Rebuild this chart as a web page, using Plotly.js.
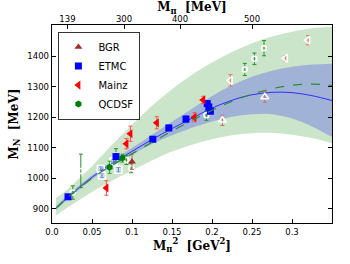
<!DOCTYPE html>
<html><head><meta charset="utf-8">
<script src="https://cdn.plot.ly/plotly-3.0.1.min.js"></script>
<style>body{margin:0;background:#fff}#p{width:350px;height:264px}</style>
</head><body><div id="p"></div>
<script>
// ---- data ----
// curves / bands (M_pi^2 grid in GeV^2, M_N in MeV)
var curveX = [0.005,0.02,0.05,0.075,0.1,0.125,0.15,0.175,0.2,0.225,0.25,0.275,0.3,0.325,0.35];
var fitBlue = [902,938,1003,1048,1088,1127,1163,1197,1230,1256,1274,1282,1281,1271,1255];
var fitGreenDash = [902,937,1000,1042,1080,1118,1155,1190,1223,1252,1276,1294,1305,1309,1305];
var greenUpper = [935,965,1040,1110,1175,1238,1292,1340,1380,1414,1443,1465,1481,1492,1497];
var greenLower = [878,905,955,992,1025,1058,1088,1110,1128,1141,1148,1149,1143,1132,1115];
var blueUpper = [909,945,1010,1056,1099,1143,1185,1228,1270,1305,1333,1353,1366,1373,1376];
var blueLower = [895,931,996,1040,1077,1112,1141,1166,1186,1202,1210,1210,1196,1170,1135];

// BGR
var bgrX = [0.100], bgrY = [1054], bgrE = [25];
var bgrOpenX = [0.213,0.266], bgrOpenY = [1190,1267], bgrOpenE = [17,18];
// ETMC
var etmcX = [0.020,0.080,0.126,0.146,0.1675,0.194,0.196,0.198];
var etmcY = [939,1071,1128,1165,1194,1245,1234,1220];
var etmcE = [6,10,8,10,12,10,10,10];
var etmcOpenX = [0.061,0.0625,0.077,0.083];
var etmcOpenY = [1030,1009,1055,1028];
var etmcOpenE = [8,8,8,8];
// Mainz
var mainzX = [0.068,0.093,0.098,0.131,0.178,0.189];
var mainzY = [968,1113,1146,1182,1200,1257];
var mainzE = [24,17,25,20,15,12];
var mainzOpenX = [0.223,0.292,0.320];
var mainzOpenY = [1321,1394,1453];
var mainzOpenE = [19,8,15];
// QCDSF
var qX = [0.072,0.088], qY = [1036,1066], qE = [20,13];
var qOpenX = [0.026,0.036,0.080,0.093,0.099,0.193,0.241,0.253,0.265];
var qOpenY = [953,1024,1075,1060,1033,1207,1357,1392,1427];
var qOpenE = [22,55,22,15,15,17,20,19,25];

// top axis: M_pi in MeV
var topTickMeV = [139,300,400,500];

// ---- traces ----
function band(up, lo, color){
  return [
    {x:curveX, y:up, mode:'lines', line:{width:0, shape:'spline'}, hoverinfo:'skip', showlegend:false},
    {x:curveX, y:lo, mode:'lines', line:{width:0, shape:'spline'}, fill:'tonexty', fillcolor:color, hoverinfo:'skip', showlegend:false}
  ];
}
function pts(x,y,e,name,sym,col,size,open,ecol,legend){
  var m = {symbol:sym, size:size, color:open?'#ffffff':col, line:{color:col, width:open?1.5:0}};
  return {x:x, y:y, name:name, mode:'markers', type:'scatter', showlegend:legend,
    error_y:{type:'data', array:e, visible:true, color:ecol, thickness:1, width:2},
    marker:m};
}
var traces = [];
traces = traces.concat(band(greenUpper, greenLower, 'rgb(202,229,202)'));
traces = traces.concat(band(blueUpper, blueLower, 'rgb(160,178,214)'));
// dashed fit drawn on the top (M_pi) axis, which shares the same M_pi^2 scale
traces.push({x:curveX, y:fitGreenDash, xaxis:'x2', mode:'lines', line:{color:'#2e8b3a', width:1.2, dash:'dash', shape:'spline'}, showlegend:false});
traces.push({x:curveX, y:fitBlue, mode:'lines', line:{color:'#2f2fff', width:1, shape:'spline'}, showlegend:false});

traces.push(pts(bgrOpenX,bgrOpenY,bgrOpenE,'BGR open','triangle-up-open','#c05050',7,true,'#cc7070',false));
traces.push(pts(etmcOpenX,etmcOpenY,etmcOpenE,'ETMC open','square-open','#4a4aff',7,true,'#7070ff',false));
traces.push(pts(mainzOpenX,mainzOpenY,mainzOpenE,'Mainz open','triangle-left-open','#ea4a4a',7,true,'#ee7070',false));
traces.push(pts(qOpenX,qOpenY,qOpenE,'QCDSF open','circle-open','#2a922a',5,true,'#2a922a',false));

traces.push(pts(bgrX,bgrY,bgrE,'BGR','triangle-up','#a52a2a',7,false,'#c06060',true));
traces.push(pts(etmcX,etmcY,etmcE,'ETMC','square','#0000ff',7,false,'#6a6aff',true));
traces.push(pts(mainzX,mainzY,mainzE,'Mainz','triangle-left','#ff0000',8,false,'#ff5050',true));
traces.push(pts(qX,qY,qE,'QCDSF','hexagon','#008000',7,false,'#30a030',true));

var tickFont = {family:'DejaVu Sans', size:8.5, color:'#000'};
var titleFont = {family:'DejaVu Serif', size:12, color:'#000', weight:'bold'};

var layout = {
  width:350, height:264,
  margin:{l:52, r:18, t:25, b:41},
  paper_bgcolor:'#fff', plot_bgcolor:'#fff',
  showlegend:true,
  legend:{x:0.02, y:0.966, xanchor:'left', yanchor:'top', bgcolor:'#fff', bordercolor:'#000', borderwidth:0.8,
          font:{family:'DejaVu Sans', size:10, color:'#000'}, itemwidth:30, tracegroupgap:0, traceorder:'normal'},
  xaxis:{range:[0,0.35], tickvals:[0,0.05,0.1,0.15,0.2,0.25,0.3], ticktext:['0.0','0.05','0.1','0.15','0.2','0.25','0.3'],
         ticks:'inside', ticklen:4, tickwidth:1, tickcolor:'#000', showline:true, linecolor:'#000', linewidth:1.3, mirror:true,
         showgrid:false, zeroline:false, tickfont:tickFont,
         title:{text:'M<sub>π</sub><sup>2</sup>  [GeV<sup>2</sup>]', font:titleFont, standoff:2}},
  xaxis2:{range:[0,0.35], overlaying:'x', anchor:'y', side:'top',
          tickvals:topTickMeV.map(function(v){return (v/1000)*(v/1000);}), ticktext:topTickMeV.map(String),
          ticks:'inside', ticklen:4, tickwidth:1, tickcolor:'#000', showline:false, showgrid:false, zeroline:false,
          tickfont:tickFont, title:{text:'M<sub>π</sub>  [MeV]', font:titleFont, standoff:0}},
  yaxis:{range:[853,1503], tickvals:[900,1000,1100,1200,1300,1400],
         ticks:'inside', ticklen:4, tickwidth:1, tickcolor:'#000', showline:true, linecolor:'#000', linewidth:1.3, mirror:'ticks',
         showgrid:false, zeroline:false, tickfont:tickFont,
         title:{text:'M<sub>N</sub>  [MeV]', font:titleFont, standoff:6}}
};
Plotly.newPlot('p', traces, layout, {staticPlot:true});
</script></body></html>
